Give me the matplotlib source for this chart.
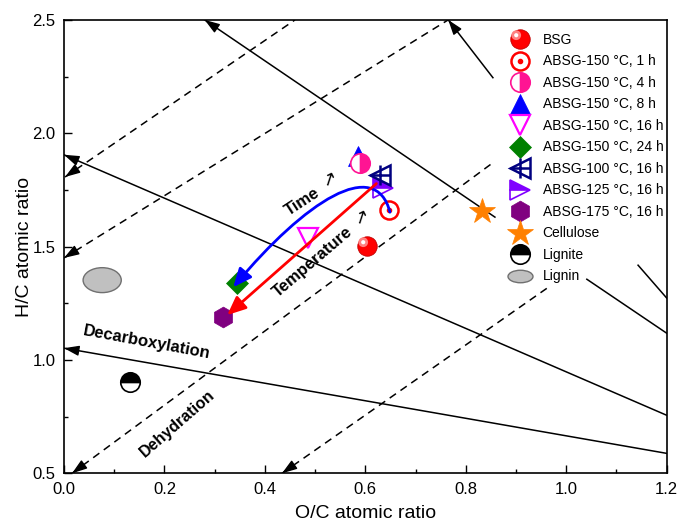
import numpy as np
import matplotlib

matplotlib.use("Agg")
import matplotlib.pyplot as plt
from matplotlib.lines import Line2D
from matplotlib.markers import MarkerStyle
from matplotlib.patches import Ellipse, FancyArrowPatch
from matplotlib.path import Path
from matplotlib.ticker import MultipleLocator
from matplotlib.transforms import Affine2D

plt.rcParams["font.family"] = ["Liberation Sans", "DejaVu Sans"]

# elemental ratios (O/C, H/C) of the samples and references
labels = [
    "BSG",
    "ABSG-150 °C, 1 h",
    "ABSG-150 °C, 4 h",
    "ABSG-150 °C, 8 h",
    "ABSG-150 °C, 16 h",
    "ABSG-150 °C, 24 h",
    "ABSG-100 °C, 16 h",
    "ABSG-125 °C, 16 h",
    "ABSG-175 °C, 16 h",
    "Cellulose",
    "Lignite",
]
oc_ratio = [0.603, 0.647, 0.589, 0.585, 0.486, 0.344, 0.629, 0.635, 0.317, 0.832, 0.131]
hc_ratio = [1.502, 1.661, 1.869, 1.900, 1.537, 1.339, 1.816, 1.758, 1.190, 1.657, 0.902]

lignin_oc = 0.076
lignin_hc = 1.352
lignin_width = 0.076
lignin_height = 0.11

# van Krevelen guide lines, arrowhead sits on the first point
decarboxylation_lines = [
    [(0.0, 1.052), (1.2, 0.588)],
    [(0.0, 1.905), (1.2, 0.756)],
    [(0.28, 2.5), (0.858, 1.63)],
    [(0.765, 2.5), (0.854, 2.245)],
]
decarboxylation_tails = [
    [(1.041, 1.356), (1.2, 1.118)],
    [(1.143, 1.418), (1.2, 1.273)],
]
dehydration_lines = [
    [(0.016, 0.5), (0.854, 1.87)],
    [(0.0, 1.45), (0.765, 2.5)],
    [(0.002, 1.807), (0.46, 2.5)],
    [(0.434, 0.5), (0.962, 1.317)],
]

# reaction-path arrows
time_path = [(0.649, 1.652), (0.62, 1.90), (0.48, 1.70), (0.337, 1.321)]
temperature_path = [(0.622, 1.778), (0.325, 1.198)]


def sphere(color, ms):
    base = dict(marker="o", color=color, markersize=ms, markeredgecolor="#c00000",
                markeredgewidth=0.6, linestyle="none")
    shift = 0.22 * ms
    glow = dict(marker=MarkerStyle("o", transform=Affine2D().translate(-shift / 7, shift / 7)),
                color="#ff8080", markersize=7, markeredgewidth=0, linestyle="none")
    spot = dict(marker=MarkerStyle("o", transform=Affine2D().translate(-shift / 3, shift / 3)),
                color="white", markersize=3, markeredgewidth=0, linestyle="none")
    return [base, glow, spot]


ellipse_marker = Path.unit_circle().transformed(Affine2D().scale(1.0, 0.5))

styles = [
    sphere("#ff0000", 14),
    [dict(marker="o", color="#ff0000", markerfacecolor="white", markersize=13,
          markeredgewidth=1.8, linestyle="none"),
     dict(marker="o", color="#ff0000", markersize=3, linestyle="none")],
    [dict(marker="o", color="#ff1493", markerfacecolor="#ff1493", markerfacecoloralt="white",
          fillstyle="right", markersize=14, markeredgewidth=1.2, linestyle="none")],
    [dict(marker="^", color="#0000ff", markersize=15, markeredgewidth=0.5, linestyle="none")],
    [dict(marker="v", color="#ff00ff", markerfacecolor="none", markersize=15,
          markeredgewidth=1.6, linestyle="none")],
    [dict(marker="D", color="#008000", markersize=11.5, markeredgewidth=0.5, linestyle="none")],
    [dict(marker="<", color="#000080", markerfacecolor="none", markersize=14,
          markeredgewidth=1.8, linestyle="none"),
     dict(marker="+", color="#000080", markersize=14, markeredgewidth=1.8, linestyle="none")],
    [dict(marker=">", color="#8000ff", markerfacecolor="#8000ff", markerfacecoloralt="white",
          fillstyle="top", markersize=14, markeredgewidth=1.2, linestyle="none")],
    [dict(marker="h", color="#800080", markersize=15, markeredgewidth=0.5, linestyle="none")],
    [dict(marker="*", color="#ff8000", markersize=19, markeredgewidth=0.5, linestyle="none")],
    [dict(marker="o", color="black", markerfacecolor="black", markerfacecoloralt="white",
          fillstyle="top", markersize=14, markeredgewidth=1.2, linestyle="none")],
]
zorders = [5, 5, 6, 4, 5, 5, 6, 5, 5, 5, 5]

fig = plt.figure(figsize=(6.81, 5.23), dpi=100)
ax = fig.add_axes([0.094, 0.095, 0.885, 0.867])
ax.set_xlim(0, 1.2)
ax.set_ylim(0.5, 2.5)


def head(p0, p1, color="black"):
    # short shaft in display space so every head gets the same size
    d0 = ax.transData.transform(p0)
    d1 = ax.transData.transform(p1)
    step = (d1 - d0) / np.hypot(*(d1 - d0)) * 14
    tail = ax.transData.inverted().transform(d0 + step)
    ax.annotate("", xy=p0, xytext=tail, annotation_clip=False,
                arrowprops=dict(arrowstyle="-|>,head_length=0.65,head_width=0.22",
                                mutation_scale=14, color=color, lw=1.0,
                                shrinkA=0, shrinkB=0))


for (p0, p1) in decarboxylation_lines:
    ax.plot([p0[0], p1[0]], [p0[1], p1[1]], color="black", lw=1.1)
    head(p0, p1)
for (p0, p1) in decarboxylation_tails:
    ax.plot([p0[0], p1[0]], [p0[1], p1[1]], color="black", lw=1.1)
for (p0, p1) in dehydration_lines:
    ax.plot([p0[0], p1[0]], [p0[1], p1[1]], color="black", lw=1.1,
            linestyle=(0, (5.0, 3.6)))
    head(p0, p1)

ax.add_patch(Ellipse((lignin_oc, lignin_hc), lignin_width, lignin_height,
                     facecolor="#c0c0c0", edgecolor="#707070", lw=1.0, zorder=5))

handles = []
for label, x, y, layers, z in zip(labels, oc_ratio, hc_ratio, styles, zorders):
    parts = []
    for k, st in enumerate(layers):
        (ln,) = ax.plot([x], [y], zorder=z + 0.01 * k, **st)
        parts.append(ln)
    handles.append(tuple(parts) if len(parts) > 1 else parts[0])

lignin_handle = Line2D([], [], marker=ellipse_marker, markersize=18, linestyle="none",
                       markerfacecolor="#c0c0c0", markeredgecolor="#707070",
                       markeredgewidth=1.0)
handles.append(lignin_handle)

time_codes = [Path.MOVETO, Path.CURVE4, Path.CURVE4, Path.CURVE4]
ax.add_patch(FancyArrowPatch(path=Path(time_path, time_codes),
                             arrowstyle="-|>,head_length=0.8,head_width=0.35",
                             mutation_scale=14, color="#0000ff", lw=2.0, zorder=8))
ax.annotate("", xy=temperature_path[1], xytext=temperature_path[0],
            arrowprops=dict(arrowstyle="-|>,head_length=0.8,head_width=0.35",
                            mutation_scale=14, color="#ff0000", lw=2.0,
                            shrinkA=0, shrinkB=0), zorder=8)

ax.text(0.474, 1.696, "Time", rotation=33, ha="center", va="center",
        fontsize=12, fontweight="bold")
ax.text(0.526, 1.785, "\u2191", rotation=-18, ha="center", va="center",
        fontsize=13, family="DejaVu Sans")
ax.text(0.496, 1.432, "Temperature", rotation=40.5, ha="center", va="center",
        fontsize=12, fontweight="bold")
ax.text(0.589, 1.617, "\u2191", rotation=-18, ha="center", va="center",
        fontsize=13, family="DejaVu Sans")
ax.text(0.165, 1.078, "Decarboxylation", rotation=-10.5, ha="center", va="center",
        fontsize=12, fontweight="bold")
ax.text(0.226, 0.72, "Dehydration", rotation=41, ha="center", va="center",
        fontsize=11.5, fontweight="bold")

ax.legend(handles, labels + ["Lignin"], loc="upper left",
          bbox_to_anchor=(0.752, 0.937), bbox_transform=fig.transFigure,
          frameon=False, fontsize=10, borderpad=0, borderaxespad=0,
          handlelength=1.2, handletextpad=1.0, labelspacing=0.54)

ax.xaxis.set_major_locator(MultipleLocator(0.2))
ax.xaxis.set_minor_locator(MultipleLocator(0.1))
ax.yaxis.set_major_locator(MultipleLocator(0.5))
ax.yaxis.set_minor_locator(MultipleLocator(0.25))
ax.tick_params(which="both", direction="in", width=1.0, labelsize=12, pad=6)
ax.tick_params(which="major", length=6)
ax.tick_params(which="minor", length=3)
for sp in ax.spines.values():
    sp.set_linewidth(1.2)

ax.set_xlabel("O/C atomic ratio", fontsize=14, labelpad=6)
ax.set_ylabel("H/C atomic ratio", fontsize=14, labelpad=0)

fig.savefig("out.png", dpi=100)
